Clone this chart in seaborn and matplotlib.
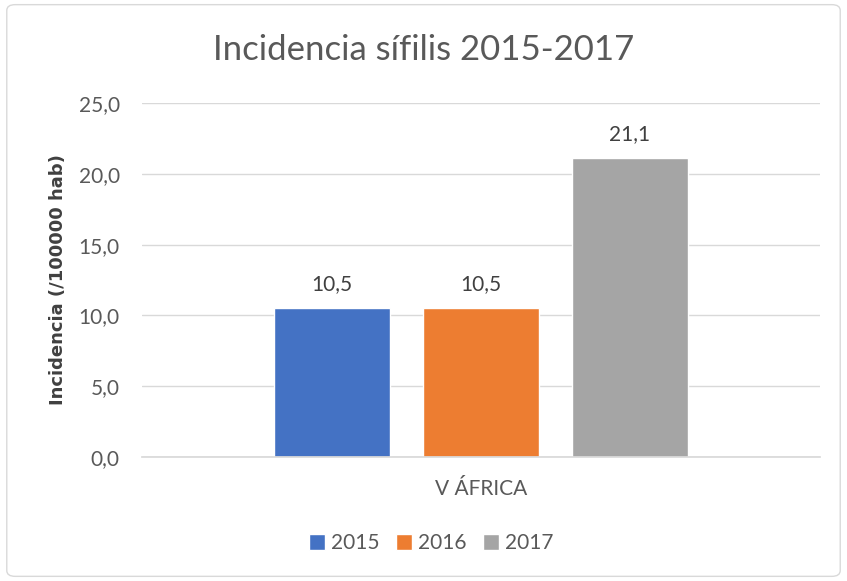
import matplotlib
matplotlib.use("Agg")
import matplotlib.pyplot as plt
import seaborn as sns
import pandas as pd
from matplotlib.patches import FancyBboxPatch

regions = ["V ÁFRICA"]
years = ["2015", "2016", "2017"]
values = [10.5, 10.5, 21.1]
colors = ["#4472C4", "#ED7D31", "#A5A5A5"]
yticks = [0, 5, 10, 15, 20, 25]

df = pd.DataFrame({"region": regions * 3, "year": years, "value": values})

sns.set_theme(style="white")
plt.rcParams["font.family"] = ["Lato", "DejaVu Sans"]
txt = "#595959"

fig = plt.figure(figsize=(8.47, 5.81), dpi=100)
ax = fig.add_axes([0.1677, 0.2134, 0.8005, 0.6093])

sns.barplot(data=df, x="region", y="value", hue="year", palette=colors,
            width=0.659, gap=0.22, ax=ax, legend=True, saturation=1)

ax.set_xlim(-0.5, 0.5)
ax.set_ylim(0, 25)
ax.set_yticks(yticks)
ax.set_yticklabels([f"{v:.1f}".replace(".", ",") for v in yticks], fontsize=15, color=txt)
ax.tick_params(axis="x", labelsize=15, labelcolor=txt, pad=16, length=0)
ax.tick_params(axis="y", length=0, pad=16)
ax.yaxis.grid(True, color="#D9D9D9", linewidth=1)
ax.set_axisbelow(True)
for s in ["top", "right", "left"]:
    ax.spines[s].set_visible(False)
ax.spines["bottom"].set_color("#D9D9D9")
ax.set_xlabel("")
ax.set_ylabel("Incidencia (/100000 hab)", fontsize=13, fontweight="bold",
              color="#404040", family="DejaVu Sans")
ax.yaxis.set_label_coords(-0.11, 0.5)

for cont in ax.containers:
    ax.bar_label(cont, labels=[f"{v:.1f}".replace(".", ",") for v in cont.datavalues],
                 padding=10, fontsize=15, color="#404040")

leg = fig.legend(*ax.get_legend_handles_labels(), loc="center",
                 bbox_to_anchor=(0.509, 0.065), ncol=3, frameon=False,
                 fontsize=15, handlelength=0.75, handleheight=0.75, columnspacing=0.8,
                 handletextpad=0.3)
ax.get_legend().remove()
for t in leg.get_texts():
    t.set_color(txt)

fig.text(0.5, 0.914, "Incidencia sífilis 2015-2017", ha="center", va="center",
         fontsize=25, color=txt)

border = FancyBboxPatch((0.008, 0.008), 0.984, 0.984, boxstyle="round,pad=0,rounding_size=0.01",
                        transform=fig.transFigure, fill=False, edgecolor="#D9D9D9", linewidth=1)
fig.patches.append(border)

fig.savefig("out.png", dpi=100)
